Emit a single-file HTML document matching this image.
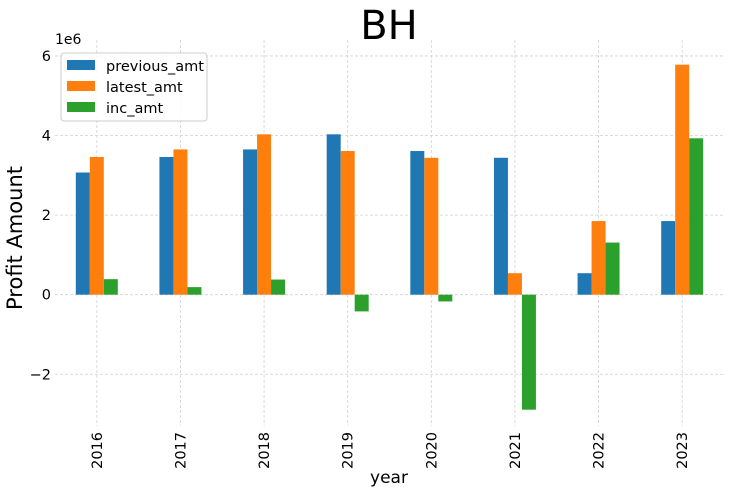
<!DOCTYPE html>
<html><head><meta charset="utf-8"><style>
body{margin:0;background:#fff;font-family:"Liberation Sans","DejaVu Sans",sans-serif;}
svg text{font-family:"DejaVu Sans","Liberation Sans",sans-serif;}
</style></head><body>
<svg id="chart" width="731" height="492" xmlns="http://www.w3.org/2000/svg">
<text x="389" y="39" font-size="40" text-anchor="middle" fill="#000">BH</text>
<g id="grid"></g><g id="bars"></g><g id="axes"></g>
<text x="55" y="44" font-size="14" fill="#000">1e6</text>
<text transform="translate(22,238) rotate(-90)" font-size="21" text-anchor="middle" fill="#000">Profit Amount</text>
<text x="389" y="483" font-size="17" text-anchor="middle" fill="#000">year</text>
<g>
<rect x="61" y="53" width="146" height="68" rx="3" fill="#fff" fill-opacity="0.8" stroke="#ccc"/>
<rect x="67" y="60" width="28" height="10" fill="#1f77b4"/>
<text x="106" y="71" font-size="14.5">previous_amt</text>
<rect x="67" y="81" width="28" height="10" fill="#ff7f0e"/>
<text x="106" y="92" font-size="14.5">latest_amt</text>
<rect x="67" y="102" width="28" height="10" fill="#2ca02c"/>
<text x="106" y="113" font-size="14.5">inc_amt</text>
</g>
</svg>
<script>
const categories=["2016","2017","2018","2019","2020","2021","2022","2023"];
const previousAmt=[3.07,3.46,3.65,4.03,3.61,3.44,0.54,1.85];
const latestAmt=[3.46,3.65,4.03,3.61,3.44,0.54,1.85,5.78];
const incAmt=[0.39,0.19,0.38,-0.42,-0.17,-2.89,1.31,3.93];
const yTicks=[-2,0,2,4,6];
const NS="http://www.w3.org/2000/svg";
const L=55,R=724,T=40,B=426,yMin=-3.3,yMax=6.4;
const step=(R-L)/categories.length;
function x(i){return L+step*(i+0.5);}
function y(v){return B-(v-yMin)/(yMax-yMin)*(B-T);}
function mk(tag,attrs,parent){const e=document.createElementNS(NS,tag);for(const k in attrs)e.setAttribute(k,attrs[k]);parent.appendChild(e);return e;}
const grid=document.getElementById('grid'),bars=document.getElementById('bars'),axes=document.getElementById('axes');
yTicks.forEach(t=>{
 const l=mk('line',{x1:L,x2:R,y1:y(t),y2:y(t),stroke:'#d0d0d0','stroke-width':0.8,'stroke-dasharray':'3,2'},grid);
 
 
 const tx=mk('text',{x:L-4,y:y(t)+5,'font-size':14.5,'text-anchor':'end'},axes);
 tx.textContent=(t<0?'\u2212'+(-t):t);
 
 
});
categories.forEach((c,i)=>{
 const l=mk('line',{x1:x(i),x2:x(i),y1:T,y2:B,stroke:'#d0d0d0','stroke-width':0.8,'stroke-dasharray':'3,2'},grid);
 
 
 const tx=mk('text',{transform:`translate(${x(i)+5},${B+6}) rotate(-90)`,'font-size':14.5,'text-anchor':'end'},axes);
 tx.textContent=c;
 
 
});
const series=[[previousAmt,'#1f77b4','previous'],[latestAmt,'#ff7f0e','latest'],[incAmt,'#2ca02c','inc']];
const bw=14;
series.forEach((s,k)=>{
 s[0].forEach((v,i)=>{
  const cx=x(i)+(k-1)*bw;
  const y0=y(0),y1=y(v);
  const r=mk('rect',{x:cx-bw/2,y:Math.min(y0,y1),width:bw,height:Math.abs(y1-y0),fill:s[1]},bars);
  
  
 });
});
</script>
</body></html>
